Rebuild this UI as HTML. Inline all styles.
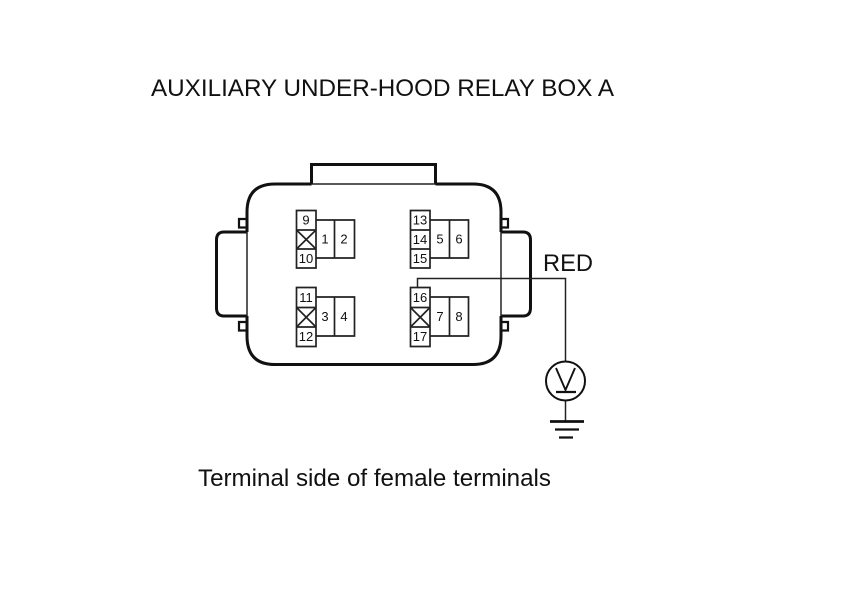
<!DOCTYPE html>
<html>
<head>
<meta charset="utf-8">
<style>
html,body{margin:0;padding:0;background:#fff;width:860px;height:608px;overflow:hidden}
svg{display:block}
text{font-family:"Liberation Sans",Arial,sans-serif;fill:#111}
.n{font-size:13px;text-anchor:middle}
</style>
</head>
<body>
<svg width="860" height="608" viewBox="0 0 860 608" xmlns="http://www.w3.org/2000/svg">
<rect width="860" height="608" fill="#fff"/>
<text x="151" y="96" font-size="24" textLength="463" lengthAdjust="spacingAndGlyphs">AUXILIARY UNDER-HOOD RELAY BOX A</text>
<text x="543" y="271" font-size="24" textLength="50" lengthAdjust="spacingAndGlyphs">RED</text>
<text x="198" y="486" font-size="24" textLength="353" lengthAdjust="spacingAndGlyphs">Terminal side of female terminals</text>

<!-- Body -->
<g fill="none" stroke="#111" stroke-width="3">
<path d="M311.5 184H275Q247 184 247 212V232M247 316V336Q247 364.5 275 364.5H473Q501 364.5 501 336V316M501 232V212Q501 184 473 184H435.5"/>
<path d="M311.5 184V164.5H435.5V184"/>
<path d="M247 232H224Q216.500 232 216.500 240V308Q216.500 316 224 316H247"/>
<path d="M501 232H523Q530.500 232 530.500 240V308Q530.500 316 523 316H501"/>
<path stroke-width="2.200" d="M247 219H239V227.500H247M247 322H239V330.500H247M501 219H508V227.500H501M501 322H508V330.500H501"/>
</g>
<g fill="none" stroke="#222" stroke-width="1.500">
<path d="M311.500 184H435.500M247 232V316M501 232V316"/>
</g>

<!-- Connector blocks -->
<g fill="none" stroke="#222" stroke-width="1.700">
<path d="M296.500 210.500H316V268H296.500ZM296.500 230H316M296.500 249H316M316 220H354.500V258H316M334.500 220V258"/>
<path d="M296.500 230L316 249M316 230L296.500 249"/>
<path d="M296.500 287.500H316V346.500H296.500ZM296.500 307.500H316M296.500 327H316M316 297H354.500V336H316M334.500 297V336"/>
<path d="M296.500 307.500L316 327M316 307.500L296.500 327"/>
<path d="M410.500 210.500H430V268H410.500ZM410.500 230H430M410.500 249H430M430 220H468.500V258H430M449.500 220V258"/>
<path d="M410.500 287.500H430V346.500H410.500ZM410.500 307.500H430M410.500 327H430M430 297H468.500V336H430M449.500 297V336"/>
<path d="M410.500 307.500L430 327M430 307.500L410.500 327"/>
</g>

<g class="labels">
<text class="n" x="306" y="224.500">9</text>
<text class="n" x="306" y="263">10</text>
<text class="n" x="325" y="243.500">1</text>
<text class="n" x="344" y="243.500">2</text>
<text class="n" x="306" y="302">11</text>
<text class="n" x="306" y="341">12</text>
<text class="n" x="325" y="321">3</text>
<text class="n" x="344" y="321">4</text>
<text class="n" x="420" y="224.500">13</text>
<text class="n" x="420" y="244">14</text>
<text class="n" x="420" y="263">15</text>
<text class="n" x="440" y="243.500">5</text>
<text class="n" x="459" y="243.500">6</text>
<text class="n" x="420" y="302">16</text>
<text class="n" x="420" y="341">17</text>
<text class="n" x="440" y="321">7</text>
<text class="n" x="459" y="321">8</text>
</g>

<!-- Probe wire, voltmeter, ground -->
<g fill="none" stroke="#222" stroke-width="1.500">
<path d="M417.500 287.500V278.500H565.500V361.500M565.500 400.500V421"/>
</g>
<g fill="none" stroke="#111">
<circle cx="565.500" cy="381" r="19.500" stroke-width="2"/>
<path stroke-width="1.900" d="M556 368L565.500 390L575 368"/>
<path stroke-width="2.300" d="M556 392H576"/>
<path stroke-width="2.800" d="M550 421.500H584"/>
<path stroke-width="2.300" d="M555 429.500H579M559 437.500H573"/>
</g>
</svg>
</body>
</html>
